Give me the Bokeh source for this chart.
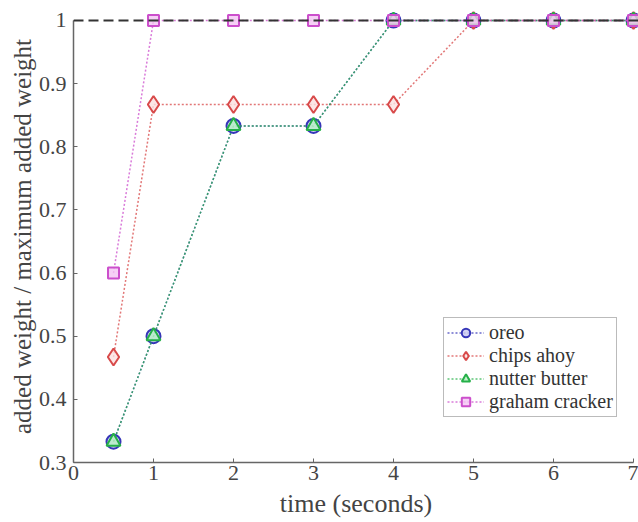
from bokeh.plotting import figure
from bokeh.models import Range1d, Span, Legend, LegendItem, FixedTicker, Title
from bokeh.embed import file_html
from bokeh.resources import INLINE

# ---- data ----
time_s = [0.5, 1, 2, 3, 4, 5, 6, 7]
oreo = [0.333, 0.5, 0.833, 0.833, 1.0, 1.0, 1.0, 1.0]
chips_ahoy = [0.467, 0.867, 0.867, 0.867, 0.867, 1.0, 1.0, 1.0]
nutter_butter = [0.333, 0.5, 0.833, 0.833, 1.0, 1.0, 1.0, 1.0]
graham_cracker = [0.6, 1.0, 1.0, 1.0, 1.0, 1.0, 1.0, 1.0]
x_ticks = [0, 1, 2, 3, 4, 5, 6, 7]
y_ticks = [0.3, 0.4, 0.5, 0.6, 0.7, 0.8, 0.9, 1.0]
max_ref = 1.0
x_title = "time (seconds)"
y_title = "added weight / maximum added weight"

FONT = "'Liberation Serif', 'Times New Roman', serif"

p = figure(width=638, height=522, output_backend="svg", toolbar_location=None,
           x_range=Range1d(0, 7.0625), y_range=Range1d(0.3, 1.0158),
           min_border_left=73, min_border_right=0, min_border_top=10,
           min_border_bottom=60)
p.grid.visible = False
p.outline_line_color = None
p.background_fill_color = "white"
p.border_fill_color = "white"

series = [
    ("oreo", oreo, "circle", "#3636b8", "#c8c8f0", 14),
    ("chips ahoy", chips_ahoy, "diamond", "#d84a4a", "#fbe0e0", 17),
    ("nutter butter", nutter_butter, "triangle", "#25b048", "#b8f0c4", 14),
    ("graham cracker", graham_cracker, "square", "#cc4fcc", "#f4c4f4", 11),
]

items = []
for name, vals, marker, col, fill, size in series:
    ln = p.line(time_s, vals, line_color=col, line_width=1.5, line_dash="2 2",
                line_alpha=0.75)
    sc = p.scatter(time_s, vals, marker=marker, size=size, line_color=col,
                   line_width=2, fill_color=fill, fill_alpha=0.8)
    items.append(LegendItem(label=name, renderers=[ln, sc]))

p.add_layout(Span(location=max_ref, dimension="width", line_color="#333333",
                  line_width=2, line_dash="10 5"))

for ax in (p.xaxis[0], p.yaxis[0]):
    ax.axis_line_color = "#666666"
    ax.axis_line_width = 1.5
    ax.major_tick_line_color = "#666666"
    ax.major_tick_in = 4
    ax.major_tick_out = 0
    ax.minor_tick_line_color = None
    ax.major_label_text_font = FONT
    ax.major_label_text_font_size = "22px"
    ax.major_label_text_color = "#444444"
    ax.axis_label_text_font = FONT
    ax.axis_label_text_font_style = "normal"
    ax.axis_label_text_color = "#444444"

p.yaxis[0].axis_label_text_font_size = "25px"
p.xaxis[0].ticker = FixedTicker(ticks=x_ticks)
p.yaxis[0].ticker = FixedTicker(ticks=y_ticks)
p.xaxis[0].bounds = (0, 7)
p.yaxis[0].bounds = (0.3, 1.0)
p.yaxis[0].axis_label = y_title
p.xaxis[0].major_label_standoff = 3
p.yaxis[0].major_label_standoff = 7
p.yaxis[0].axis_label_standoff = 0
p.yaxis[0].major_label_overrides = {0.3: "0.3", 0.4: "0.4", 0.5: "0.5", 0.6: "0.6",
                                    0.7: "0.7", 0.8: "0.8", 0.9: "0.9", 1.0: "1"}

# x-axis title as a panel below the axis
p.add_layout(Title(text=x_title, align="center", vertical_align="bottom",
                   text_font=FONT, text_font_size="26px", text_font_style="normal",
                   text_color="#444444", standoff=8, offset=0), "below")

legend = Legend(items=items, location=(370, 45))
legend.label_text_font = FONT
legend.label_text_font_size = "20px"
legend.label_text_color = "#333333"
legend.border_line_color = "#777777"
legend.border_line_width = 1.5
legend.background_fill_color = "white"
legend.background_fill_alpha = 1.0
legend.glyph_width = 37
legend.glyph_height = 21
legend.label_height = 21
legend.spacing = 0
legend.padding = 3
legend.margin = 0
legend.label_standoff = 5
p.add_layout(legend, "center")

open("out.html", "w").write(file_html(p, INLINE))
